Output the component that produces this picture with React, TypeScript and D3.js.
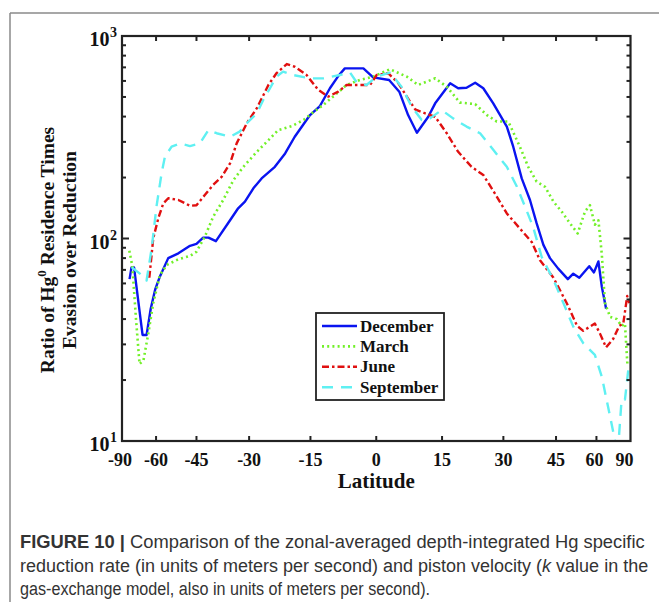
import React, { useLayoutEffect, useRef } from 'react';
import * as d3 from 'd3';

// latitude (deg) and ratio values
const decLat = [-76, -74.3, -72.3, -66.8, -64.6, -62.5, -60.4, -58.3, -54.9, -51.1, -47.1, -45, -42.9, -41.3, -39.1, -35.1, -32.9, -31.1, -28.9, -26.8, -23.5, -21, -18.7, -15.1, -12.8, -10.5, -8.6, -7.1, -2.9, -0.7, 2.9, 5.2, 7.2, 9.2, 11.8, 13.4, 16.9, 18.8, 20.8, 22.9, 24.9, 27.4, 30.9, 32.6, 34.9, 37.2, 39.1, 41.1, 43.1, 45.7, 48.9, 50.8, 53, 56.9, 58.9, 60.9, 62.5, 64.7];
const decVal = [63, 72, 72, 33.4, 33.4, 45, 56, 65, 80, 84.5, 92, 94, 101, 101, 97, 123, 141, 152, 177, 198, 226, 263, 318, 407, 451, 552, 634, 692, 692, 625, 606, 531, 407, 333, 399, 465, 584, 552, 555, 588, 552, 465, 357, 284, 198, 155, 119, 93, 80, 71, 63, 67, 64, 73, 68, 77, 58, 45];

const marLat = [-76.2, -73.6, -70.9, -68.6, -66.3, -63.7, -61.3, -58.3, -55.5, -51.1, -47.1, -45, -42.4, -39.9, -37, -34.2, -31.5, -28, -25.1, -22.7, -19.4, -16.6, -14.7, -12, -9.3, -6.7, -3.7, -0.7, 3.1, 6.9, 9.5, 13.4, 16.1, 19.2, 22.9, 25.8, 28.3, 31.3, 34.4, 36.7, 39.1, 41.6, 44.2, 46.8, 49.6, 52.4, 55.2, 57.2, 59.3, 60.9, 62.5, 64.1, 66.9, 71, 74.8, 78, 81];
const marVal = [87, 73, 40, 24, 25, 34, 48, 66, 74, 79, 82, 86, 102, 128, 155, 194, 226, 268, 306, 343, 359, 385, 415, 457, 512, 573, 606, 630, 685, 630, 573, 618, 562, 469, 461, 407, 378, 378, 284, 226, 191, 180, 152, 136, 119, 106, 136, 146, 117, 123, 84, 48, 41, 40, 37, 38, 24];

const junLat = [-63.2, -61.3, -59, -56.9, -54.9, -51.1, -47.1, -45, -42.4, -39.9, -37.4, -35.1, -33.3, -30.6, -28, -25.1, -23.1, -20.6, -18.7, -15.9, -13.2, -10.9, -8.6, -6.7, -3.7, -1.4, 0.1, 2.7, 5, 6.9, 8.8, 10.7, 13.4, 16.1, 18.8, 22, 24.9, 27.8, 30.9, 34.4, 37.7, 40.1, 44.2, 48.5, 52.2, 54.5, 59.3, 61.6, 64.7, 68.8, 72.9, 76.3, 80.8, 84.4];
const junVal = [64, 100, 126, 149, 158, 155, 145, 146, 164, 184, 202, 235, 295, 371, 440, 573, 655, 727, 705, 642, 542, 502, 531, 573, 573, 573, 642, 655, 584, 502, 434, 418, 399, 331, 268, 226, 206, 167, 133, 112, 96, 78, 64, 48, 37, 35, 38, 34, 29, 32, 37, 38, 52, 48];

const sepLat = [-74, -71.6, -66.3, -64.6, -62, -59.8, -57.6, -56.2, -53.6, -50.5, -47.1, -43.9, -41.3, -38.9, -35.1, -32.5, -30.2, -28, -26.4, -24.7, -23.1, -21.5, -19.1, -15.1, -12, -8.2, -5.9, -4.4, -2.2, 0.1, 3.1, 5.7, 8, 10.3, 12.2, 14.9, 17.6, 20.8, 24.1, 27.4, 30.9, 33.6, 35.8, 38.1, 40.6, 44.2, 47.4, 50.8, 54.5, 59.3, 62.5, 66.9, 70.5, 72.2, 74.8, 78, 82.4];
const sepVal = [72, 70, 65, 62, 90, 144, 210, 254, 284, 295, 286, 295, 343, 331, 318, 337, 378, 415, 483, 552, 630, 667, 642, 618, 618, 642, 659, 590, 573, 630, 659, 562, 448, 385, 392, 431, 392, 357, 331, 274, 226, 180, 144, 114, 81, 62.5, 48, 36.7, 30.4, 26.6, 20.8, 13.2, 9.5, 9.5, 16, 16, 22.4];

const xTicks = [-60, -45, -30, -15, 0, 15, 30, 45, 60];
const xLabels = [-90, -60, -45, -30, -15, 0, 15, 30, 45, 60, 90];
const yMajor = [10, 100, 1000];

const series = [
  { name: 'December', lat: decLat, val: decVal, color: '#0a14f0', dash: null, width: 2.4 },
  { name: 'March', lat: marLat, val: marVal, color: '#72f028', dash: '2,3.2', width: 2.6 },
  { name: 'June', lat: junLat, val: junVal, color: '#e01010', dash: '7,3,2.5,3', width: 2.4 },
  { name: 'September', lat: sepLat, val: sepVal, color: '#5ff0f2', dash: '11,8', width: 2.4 },
];

// caption lines: baseline y and target width in the figure
const capY = [548, 572, 595];
const capW = [625, 628, 410];

const left = 122, right = 630.5, top = 36, bottom = 441;
const serif = '"Liberation Serif", "Times New Roman", serif';

export default function App() {
  const capRefs = useRef<(SVGTextElement | null)[]>([]);

  // squeeze caption lines horizontally to mimic the condensed journal font
  useLayoutEffect(() => {
    capRefs.current.forEach((el, i) => {
      if (!el) return;
      const w = el.getComputedTextLength();
      const s = w > 0 ? capW[i] / w : 1;
      el.setAttribute('transform', `translate(20,${capY[i]}) scale(${s},1)`);
    });
  }, []);

  const xs = d3.scaleLinear().domain([-1, 1]).range([left, right]);
  const x = (lat: number) => xs(Math.sin((lat * Math.PI) / 180));
  const y = d3.scaleLog().domain([10, 1000]).range([bottom, top]);
  const minor = y.ticks().filter(t => !yMajor.includes(t));

  const line = d3.line<[number, number]>().x(d => x(d[0])).y(d => y(d[1]));

  const axisCol = '#222';

  return (
    <svg width={659} height={602} style={{ position: 'absolute', left: 0, top: 0, background: '#fff' }}>
      <defs>
        <clipPath id="plot">
          <rect x={left} y={top} width={right - left} height={bottom - top} />
        </clipPath>
      </defs>
      {/* figure frame */}
      <line x1={10} y1={13} x2={659} y2={13} stroke="#8a8a8a" strokeWidth={1.5} />
      <line x1={10} y1={13} x2={10} y2={602} stroke="#8a8a8a" strokeWidth={1.5} />

      {/* series */}
      <g clipPath="url(#plot)" fill="none">
        {series.map(s => (
          <path key={s.name}
            d={line(s.lat.map((l, i) => [l, s.val[i]] as [number, number])) || ''}
            stroke={s.color} strokeWidth={s.width}
            strokeDasharray={s.dash || undefined}
            strokeLinejoin="round" />
        ))}
      </g>

      {/* ticks */}
      <g stroke={axisCol} strokeWidth={2}>
        {xTicks.map(t => (
          <g key={t}>
            <line x1={x(t)} x2={x(t)} y1={bottom} y2={bottom - 5} />
            <line x1={x(t)} x2={x(t)} y1={top} y2={top + 5} />
          </g>
        ))}
        {yMajor.map(t => (
          <g key={t}>
            <line x1={left} x2={left + 7} y1={y(t)} y2={y(t)} />
            <line x1={right} x2={right - 7} y1={y(t)} y2={y(t)} />
          </g>
        ))}
        {minor.map(t => (
          <g key={t}>
            <line x1={left} x2={left + 4} y1={y(t)} y2={y(t)} />
            <line x1={right} x2={right - 4} y1={y(t)} y2={y(t)} />
          </g>
        ))}
      </g>
      <rect x={left} y={top} width={right - left} height={bottom - top} fill="none" stroke={axisCol} strokeWidth={2.2} />

      {/* tick labels */}
      <g fontFamily={serif} fontWeight="bold" fill="#111">
        {xLabels.map(t => (
          <text key={t} x={x(t) + (t === -90 ? -2 : t === 90 ? -6 : t === 60 ? -2 : 0)} y={466}
            textAnchor="middle" fontSize={18}>{t}</text>
        ))}
        {yMajor.map(t => (
          <g key={t}>
            <text x={109.5} y={y(t) + 10} textAnchor="end" fontSize={20}>10</text>
            <text x={110} y={y(t) + 1} fontSize={14}>{Math.round(Math.log10(t))}</text>
          </g>
        ))}
        <text x={(left + right) / 2} y={488} textAnchor="middle" fontSize={21}>Latitude</text>
        <text transform="translate(54,250) rotate(-90)" textAnchor="middle" fontSize={19.5}>
          Ratio of Hg<tspan fontSize={13} dy={-8}>0</tspan><tspan dy={8}> Residence Times</tspan>
        </text>
        <text transform="translate(75.5,250) rotate(-90)" textAnchor="middle" fontSize={19.5}>
          Evasion over Reduction
        </text>
      </g>

      {/* legend */}
      <rect x={316} y={313} width={128} height={87} fill="#fff" stroke={axisCol} strokeWidth={1.8} />
      {series.map((s, i) => {
        const ly = 326 + i * 20.4;
        return (
          <g key={s.name}>
            <line x1={322} x2={357} y1={ly} y2={ly} stroke={s.color} strokeWidth={s.width}
              strokeDasharray={s.dash || undefined} />
            <text x={360} y={ly + 5.5} fontFamily={serif} fontWeight="bold" fontSize={17} fill="#111">{s.name}</text>
          </g>
        );
      })}

      {/* caption */}
      <g fontFamily='"Liberation Sans", Arial, sans-serif' fontSize={19} fill="#333">
        <text ref={el => { capRefs.current[0] = el; }} transform={`translate(20,${capY[0]}) scale(0.9,1)`}>
          <tspan fontWeight="bold">FIGURE 10 |</tspan> Comparison of the zonal-averaged depth-integrated Hg specific
        </text>
        <text ref={el => { capRefs.current[1] = el; }} transform={`translate(20,${capY[1]}) scale(0.9,1)`}>
          reduction rate (in units of meters per second) and piston velocity (<tspan fontStyle="italic">k</tspan> value in the
        </text>
        <text ref={el => { capRefs.current[2] = el; }} transform={`translate(20,${capY[2]}) scale(0.9,1)`}>
          gas-exchange model, also in units of meters per second).
        </text>
      </g>
    </svg>
  );
}
